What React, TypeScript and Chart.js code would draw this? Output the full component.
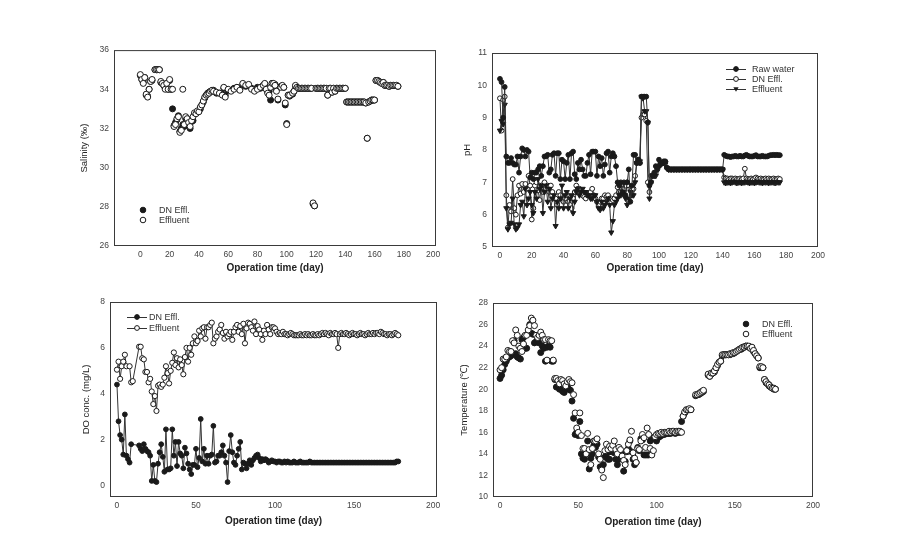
import React, { useEffect, useRef } from "react";
import { Chart, registerables } from "chart.js";

Chart.register(...registerables);
Chart.defaults.font.family = '"Liberation Sans", Arial, sans-serif';

// ---------------- DATA (array index = operation day; null = no sample) ----------------
const xTitle = "Operation time (day)";

// Salinity (‰)
const salTicksX = [0, 20, 40, 60, 80, 100, 120, 140, 160, 180, 200];
const salTicksY = [26, 28, 30, 32, 34, 36];
const salDN = [
  34.7, 34.5, 34.35, 34.6, 33.7, 33.65, 34.0, 34.4, 34.45, null,
  35.0, 35.0, 35.0, 35.0, 34.35, 34.3, 34.2, 34.05, 34.3, 34.0,
  34.45, 34.0, 33.0, 32.15, 32.3, 32.45, 32.65, 31.85, 32.0, 32.2,
  32.1, 32.5, 32.4, 32.2, 32.0, 32.35, 32.4, 32.75, 32.8, 32.85,
  32.9, 33.0, 33.2, 33.35, 33.55, 33.7, 33.8, 33.85, 33.9, 33.9,
  33.95, null, 33.8, null, 33.8, null, 33.75, 34.05, 33.7, null,
  33.95, null, 33.95, null, 34.05, null, 34.1, null, 34.0, null,
  34.25, null, 34.15, null, 34.2, null, 34.05, null, 33.95, null,
  34.1, null, 34.05, null, 34.2, 34.25, 34.05, 33.85, 33.9, 33.45,
  34.3, 34.2, 34.25, 34.0, 33.45, null, 34.15, 34.15, 34.1, 33.2,
  32.25, 33.7, 33.65, null, 33.75, 33.9, 34.15, 34.1, 34.05, 34.05,
  34.05, 34.05, 34.05, 34.05, 34.05, 34.05, 34.05, 34.05, 28.15, 28.05,
  34.05, 34.05, 34.05, 34.05, 34.05, 34.05, 34.05, 34.05, 33.7, 34.05,
  34.05, 33.85, 34.05, 33.9, 34.05, 34.05, 34.05, 34.05, 34.05, 34.05,
  34.05, 33.35, 33.35, 33.35, 33.35, 33.35, 33.35, 33.35, 33.35, 33.35,
  33.35, 33.35, 33.35, 33.35, 33.3, 31.5, 33.35, 33.4, 33.45, 33.45,
  33.45, 34.45, 34.45, 34.4, 34.35, 34.3, 34.35, 34.2, 34.2, 34.2,
  34.15, 34.2, 34.2, 34.2, 34.2, 34.2, 34.15,
];
const salEff = [
  34.75, 34.5, 34.3, 34.6, 33.75, 33.6, 34.0, 34.4, 34.5, null,
  35.0, 35.0, 35.0, 35.0, 34.4, 34.3, 34.2, 34.0, 34.3, 34.0,
  34.5, 34.0, 34.0, 32.1, 32.2, 32.5, 32.6, 31.8, 31.9, 34.0,
  32.2, 32.6, 32.5, 32.3, 32.1, 32.4, 32.6, 32.8, 32.75, 32.9,
  32.85, 33.1, 33.2, 33.4, 33.6, 33.7, 33.75, 33.8, 33.9, 33.95,
  33.9, null, 33.85, null, 33.8, null, 33.7, 34.1, 33.6, null,
  34.0, null, 33.9, null, 34.0, null, 34.1, null, 33.95, null,
  34.3, null, 34.2, null, 34.25, null, 34.0, null, 33.9, null,
  34.0, null, 34.1, null, 34.2, 34.3, 34.0, 33.8, 33.7, 34.1,
  34.3, 34.3, 34.2, 33.9, 33.5, null, 34.1, 34.2, 34.1, 33.3,
  32.2, 33.7, 33.7, null, 33.8, 33.9, 34.2, 34.1, 34.05, 34.05,
  34.05, 34.05, 34.05, 34.05, 34.05, 34.05, 34.05, 34.05, 28.2, 28.05,
  34.05, 34.05, 34.05, 34.05, 34.05, 34.05, 34.05, 34.05, 33.7, 34.05,
  34.05, 33.85, 34.05, 33.9, 34.05, 34.05, 34.05, 34.05, 34.05, 34.05,
  34.05, 33.35, 33.35, 33.35, 33.35, 33.35, 33.35, 33.35, 33.35, 33.35,
  33.35, 33.35, 33.35, 33.35, 33.3, 31.5, 33.35, 33.4, 33.45, 33.45,
  33.45, 34.45, 34.45, 34.4, 34.35, 34.3, 34.35, 34.2, 34.2, 34.2,
  34.15, 34.2, 34.2, 34.2, 34.2, 34.2, 34.15,
];

// pH
const phTicksX = [0, 20, 40, 60, 80, 100, 120, 140, 160, 180, 200];
const phTicksY = [5, 6, 7, 8, 9, 10, 11];
const phRaw = [
  10.2, 10.1, 9.0, 9.95, 7.8, 7.6, 7.6, 7.75, 7.6, 7.55,
  7.55, 7.8, 7.3, 7.8, 8.05, 8.0, 7.8, 8.0, 7.95, 7.15,
  7.3, 7.1, 7.3, 7.3, 7.4, 7.5, 7.2, 7.5, 7.8, 7.8,
  7.85, 7.3, 7.4, 7.85, 7.9, 7.2, 7.9, 7.9, 7.1, 7.7,
  7.65, 7.1, 7.6, 7.85, 7.1, 7.9, 7.95, 7.25, 7.1, 7.6,
  7.4, 7.7, 7.4, 7.2, 7.2, 7.6, 7.85, 7.25, 7.95, 7.95,
  7.95, 7.2, 7.8, 7.5, 7.75, 7.2, 7.55, 7.9, 7.95, 7.3,
  7.8, 7.9, 7.8, 7.5, 7.0, 6.9, 7.0, 6.7, 7.0, 6.6,
  7.0, 7.4, 6.4, 6.9, 7.85, 7.85, 7.6, 7.7, 7.6, 9.65,
  9.65, 9.65, 9.65, 8.85, 6.9, 7.0, 7.2, 7.3, 7.5, 7.45,
  7.7, 7.6, 7.6, 7.65, 7.65, 7.45, 7.4, 7.4, 7.4, 7.4,
  7.4, 7.4, 7.4, 7.4, 7.4, 7.4, 7.4, 7.4, 7.4, 7.4,
  7.4, 7.4, 7.4, 7.4, 7.4, 7.4, 7.4, 7.4, 7.4, 7.4,
  7.4, 7.4, 7.4, 7.4, 7.4, 7.4, 7.4, 7.4, 7.4, 7.4,
  7.4, 7.85, 7.82, 7.8, 7.8, 7.78, 7.8, 7.8, 7.82, 7.8,
  7.8, 7.82, 7.8, 7.8, 7.83, 7.85, 7.82, 7.8, 7.8, 7.8,
  7.82, 7.84, 7.8, 7.8, 7.8, 7.82, 7.8, 7.8, 7.8, 7.82,
  7.84, 7.84, 7.85, 7.84, 7.85, 7.84, 7.84,
];
const phDN = [
  9.6, 8.6, 9.55, 9.65, 6.6, 5.6, 6.3, 6.1, 7.1, 6.2,
  6.0, 6.6, 6.9, 6.65, 6.95, 6.7, 6.95, 6.8, 7.2, 6.9,
  5.85, 6.2, 6.9, 7.0, 6.75, 6.45, 6.9, 6.7, 7.0, 6.8,
  6.9, 6.7, 6.9, 6.7, 6.5, 6.5, 6.3, 6.7, 6.6, 6.5,
  6.4, 6.5, 6.6, 6.4, 6.3, 6.2, 6.5, 6.7, 6.9, 6.8,
  6.8, 6.7, 6.6, 6.55, 6.5, 6.6, 6.6, 6.7, 6.8, 6.6,
  6.5, 6.4, 6.3, 6.4, 6.5, 6.5, 6.6, 6.55, 6.6, 6.5,
  6.5, 6.45, 6.5, 6.6, 6.85, 6.7, 6.7, 6.8, 6.8, 6.9,
  7.0, 6.9, 6.8, 6.75, 6.8, 7.2, 7.6, 7.7, 7.6, 9.0,
  9.1, 9.1, 8.9, 7.0, 6.7, 7.2, 7.2, 7.25, 7.3, 7.4,
  7.5, 7.55, 7.6, 7.6, 7.6, 7.45, 7.4, 7.4, 7.4, 7.4,
  7.4, 7.4, 7.4, 7.4, 7.4, 7.4, 7.4, 7.4, 7.4, 7.4,
  7.4, 7.4, 7.4, 7.4, 7.4, 7.4, 7.4, 7.4, 7.4, 7.4,
  7.4, 7.4, 7.4, 7.4, 7.4, 7.4, 7.4, 7.4, 7.4, 7.4,
  7.4, 7.15, 7.12, 7.12, 7.1, 7.12, 7.12, 7.1, 7.12, 7.1,
  7.1, 7.12, 7.1, 7.12, 7.42, 7.12, 7.1, 7.1, 7.12, 7.1,
  7.12, 7.15, 7.12, 7.1, 7.12, 7.1, 7.1, 7.12, 7.1, 7.12,
  7.1, 7.1, 7.12, 7.1, 7.1, 7.12, 7.1,
];
const phEff = [
  8.6, 8.9, 8.8, 9.4, 6.2, 5.55, 5.7, 5.75, 6.5, 5.7,
  5.55, 5.6, 5.7, 6.3, 6.4, 5.95, 6.8, 6.3, 6.5, 6.7,
  6.3, 6.05, 6.7, 6.5, 7.1, 6.8, 6.9, 6.05, 6.7, 6.9,
  6.4, 6.8, 6.2, 6.5, 6.6, 5.65, 6.4, 6.2, 6.5, 6.9,
  6.2, 6.6, 6.7, 6.2, 6.5, 6.6, 6.05, 6.4, 6.7, 6.8,
  6.6, 6.7, 6.8, 6.7, 6.7, 6.6, 6.6, 6.5, 6.5, 6.6,
  6.6, 6.4, 6.2, 6.15, 6.4, 6.2, 6.3, 6.4, 6.5, 6.3,
  5.45, 5.8, 6.3, 6.4, 6.5, 6.6, 6.6, 6.65, 6.7, 6.5,
  6.3, 6.5, 6.7, 6.6, 6.6, 7.0, 7.6, 7.7, 7.65, 9.65,
  9.6, 9.2, 9.2, 8.85, 6.5, 7.0, 7.2, 7.2, 7.2, 7.4,
  7.5, 7.55, 7.6, 7.6, 7.6, 7.45, 7.4, 7.4, 7.4, 7.4,
  7.4, 7.4, 7.4, 7.4, 7.4, 7.4, 7.4, 7.4, 7.4, 7.4,
  7.4, 7.4, 7.4, 7.4, 7.4, 7.4, 7.4, 7.4, 7.4, 7.4,
  7.4, 7.4, 7.4, 7.4, 7.4, 7.4, 7.4, 7.4, 7.4, 7.4,
  7.4, 7.0, 6.98, 7.0, 7.0, 6.98, 7.0, 7.02, 7.0, 6.98,
  7.0, 7.0, 6.98, 7.0, 7.0, 7.02, 7.0, 6.98, 7.0, 7.0,
  6.98, 7.0, 7.02, 7.0, 7.0, 6.98, 7.0, 7.0, 7.0, 6.98,
  7.0, 7.0, 7.0, 6.98, 7.0, 7.0, 7.0,
];

// DO conc. (mg/L)
const doTicksX = [0, 50, 100, 150, 200];
const doTicksY = [0, 2, 4, 6, 8];
const doDN = [
  4.4, 2.8, 2.2, 2.0, 1.35, 3.1, 1.3, 1.15, 1.0, 1.8,
  null, null, null, null, 1.75, 1.6, 1.5, 1.8, 1.6, 1.5,
  1.45, 1.3, 0.2, 0.9, 0.2, 0.15, 0.95, 1.45, 1.8, 1.25,
  0.6, 2.45, 0.7, 0.7, 0.75, 2.45, 1.3, 1.9, 0.85, 1.9,
  1.4, 1.3, 0.75, 1.65, 1.4, 0.95, 0.7, 0.5, 0.9, 0.9,
  1.6, 0.8, 1.2, 2.9, 1.05, 1.6, 0.95, 1.3, 0.95, 1.3,
  1.35, 2.6, 1.0, 1.05, 1.3, 1.3, 1.45, 1.75, 1.3, 1.0,
  0.15, 1.5, 2.2, 1.45, 1.0, 0.9, 1.3, 1.6, 1.9, 0.7,
  1.0, 0.95, 0.75, 0.95, 1.1, 0.9, 1.1, 1.2, 1.3, 1.35,
  1.2, 1.05, 1.15, 1.1, 1.15, 1.1, 1.0, 1.05, 1.1, 1.05,
  1.05, 1.0, 1.05, 1.05, 1.0, 1.0, 1.05, 1.0, 1.05, 1.0,
  1.0, 1.0, 1.05, 1.0, 1.0, 1.0, 1.05, 1.0, 1.0, 1.0,
  1.0, 1.0, 1.05, 1.0, 1.0, 1.0, 1.0, 1.0, 1.0, 1.0,
  1.0, 1.0, 1.0, 1.0, 1.0, 1.0, 1.0, 1.0, 1.0, 1.0,
  1.0, 1.0, 1.0, 1.0, 1.0, 1.0, 1.0, 1.0, 1.0, 1.0,
  1.0, 1.0, 1.0, 1.0, 1.0, 1.0, 1.0, 1.0, 1.0, 1.0,
  1.0, 1.0, 1.0, 1.0, 1.0, 1.0, 1.0, 1.0, 1.0, 1.0,
  1.0, 1.0, 1.0, 1.0, 1.0, 1.0, 1.0, 1.05, 1.05,
];
const doEff = [
  5.05, 5.4, 4.65, 5.2, 5.4, 5.7, 5.2, null, 5.2, 4.5,
  4.55, null, null, null, 6.05, 6.05, 5.55, 5.5, 4.95, 4.95,
  4.5, 4.65, 4.1, 3.55, 3.9, 3.25, 4.35, 4.4, 4.3, 4.4,
  4.7, 5.2, 4.9, 4.45, 5.0, 5.35, 5.8, 5.25, 5.55, 5.15,
  5.5, 5.25, 4.85, 5.6, 6.0, 5.4, 6.0, 5.7, 6.2, 6.5,
  6.2, 6.3, 6.75, 6.5, 6.85, 6.9, 6.4, 6.9, 6.9, 7.0,
  7.1, 6.2, 6.4, 6.5, 6.7, 6.8, 7.0, 6.65, 6.4, 6.7,
  6.5, 6.6, 6.7, 6.35, 6.7, 6.9, 7.0, 6.7, 6.95, 6.6,
  7.05, 6.2, 6.85, 7.1, 7.05, 6.9, 6.75, 7.15, 6.6, 6.95,
  6.8, 6.6, 6.35, 6.75, 6.6, 7.0, 6.8, 6.6, 6.9, 6.9,
  6.85, 6.7, 6.6, 6.65, 6.6, 6.7, 6.6, 6.6, 6.55, 6.6,
  6.65, 6.6, 6.55, 6.55, 6.55, 6.55, 6.6, 6.55, 6.55, 6.6,
  6.55, 6.6, 6.55, 6.55, 6.6, 6.55, 6.55, 6.6, 6.55, 6.6,
  6.65, 6.6, 6.65, 6.6, 6.55, 6.65, 6.6, 6.6, 6.65, 6.6,
  6.0, 6.6, 6.65, 6.6, 6.6, 6.65, 6.6, 6.55, 6.6, 6.65,
  6.6, 6.6, 6.55, 6.6, 6.65, 6.6, 6.6, 6.55, 6.6, 6.65,
  6.6, 6.6, 6.65, 6.6, 6.65, 6.65, 6.6, 6.7, 6.65, 6.6,
  6.6, 6.55, 6.6, 6.6, 6.55, 6.6, 6.65, 6.6, 6.55,
];

// Temperature (℃)
const tTicksX = [0, 50, 100, 150, 200];
const tTicksY = [10, 12, 14, 16, 18, 20, 22, 24, 26, 28];
const tDN = [
  21.0, 21.3, 21.8, 22.3, 22.6, 22.9, 23.0, 23.1, 23.3, 24.5,
  23.3, 23.0, 22.9, 22.8, 24.6, 24.8, 23.8, 23.8, 25.2, 26.0,
  25.2, 25.1, 24.3, 24.4, 24.6, 24.3, 23.4, 24.0, 23.8, 22.6,
  23.9, 24.0, 23.9, 22.6, 22.6, 20.9, 20.2, 20.2, 20.0, 20.1,
  19.8, 19.7, 20.0, 20.2, 20.0, 19.9, 18.9, 17.3, 15.8, 16.0,
  15.7, 17.0, 14.0, 13.6, 13.5, 14.3, 15.2, 12.6, 13.6, 14.0,
  14.8, 14.6, 14.9, 13.7, 12.8, 12.6, 13.0, 13.7, 14.0, 13.5,
  13.5, 14.2, 14.3, 14.1, 13.5, 13.0, 13.5, 13.9, 14.1, 12.4,
  13.3, 14.2, 14.5, 15.2, 14.2, 13.5, 13.0, 13.2, 14.6, 14.3,
  15.4, 15.3, 13.9, 13.9, 13.9, 13.9, 15.2, 15.4, 15.5, 15.6,
  15.2, 15.5, 15.6, 15.7, 15.8, 15.8, 15.9, 15.9, 15.9, 15.9,
  16.0, 16.0, 15.9, 16.0, 16.0, 16.0, 17.0, 17.5, 17.8, 18.0,
  18.1, 18.1, 18.1, null, null, 19.4, 19.5, 19.5, 19.6, 19.7,
  19.8, null, null, 21.3, 21.2, 21.4, 21.5, 21.6, 21.9, 22.2,
  22.5, 22.6, 23.1, 23.2, 23.2, 23.2, 23.2, 23.2, 23.3, 23.3,
  23.4, 23.5, 23.6, 23.7, 23.7, 23.8, 23.9, 24.0, 24.0, 23.9,
  23.8, 23.8, 23.5, 23.3, 23.1, 22.9, 22.0, 22.0, 22.0, 20.9,
  20.6, 20.5, 20.3, 20.2, 20.1, 20.0, 20.0,
];
const tEff = [
  21.8, 22.0, 22.8, 22.8, 23.0, 23.6, 23.5, 23.5, 24.5, 24.3,
  25.5, 25.0, 24.0, 23.8, 23.5, 24.2, 25.0, 25.0, 25.5, 25.9,
  26.6, 26.4, 25.9, 25.0, 24.8, 25.0, 25.3, 25.0, 24.6, 24.6,
  22.7, 24.6, 24.5, 24.5, 22.7, 21.0, 21.0, 20.8, 20.5, 20.9,
  20.8, 20.5, 20.3, 20.7, 20.9, 20.7, 20.6, 19.5, 17.8, 16.4,
  16.0, 17.8, 15.7, 14.5, 14.5, 14.0, 15.9, 14.4, 13.0, 14.5,
  15.2, 15.2, 15.4, 14.0, 13.5, 12.5, 11.8, 14.3, 14.9, 14.4,
  14.7, 14.5, 14.8, 15.2, 14.4, 14.0, 14.6, 14.4, 13.8, 13.4,
  13.0, 14.3, 14.9, 15.3, 16.1, 14.1, 13.6, 13.2, 14.5, 14.4,
  15.2, 15.8, 15.5, 14.6, 16.4, 15.8, 14.5, 13.9, 14.3, 15.6,
  15.8, 15.9, 15.9, 16.0, 15.9, 16.0, 16.0, 16.0, 16.1, 16.0,
  16.1, 16.1, 16.0, 16.1, 16.1, 16.1, 16.0, 17.5, 17.9, 18.1,
  18.1, 18.2, 18.1, null, null, 19.5, 19.5, 19.6, 19.7, 19.8,
  19.9, null, null, 21.4, 21.2, 21.5, 21.5, 21.7, 22.0, 22.3,
  22.5, 22.6, 23.2, 23.2, 23.2, 23.2, 23.2, 23.3, 23.3, 23.4,
  23.4, 23.5, 23.6, 23.7, 23.8, 23.9, 23.9, 24.0, 24.0, 24.0,
  23.8, 23.9, 23.6, 23.3, 23.1, 22.9, 22.1, 22.1, 22.0, 20.9,
  20.7, 20.5, 20.4, 20.2, 20.1, 20.1, 20.0,
];

// ---------------- helpers ----------------
const toPts = (arr: (number | null)[]) =>
  arr.map((v, i) => (v == null ? null : { x: i, y: v })).filter(Boolean) as { x: number; y: number }[];

const INK = "#1a1a1a";

type LegItem = { mx: number; my: number; tx: number; label: string; kind: "filled" | "open" | "tri"; line: boolean };

function drawMarker(ctx: CanvasRenderingContext2D, kind: string, x: number, y: number, r: number) {
  ctx.beginPath();
  if (kind === "tri") {
    ctx.moveTo(x - r * 1.1, y - r * 0.7);
    ctx.lineTo(x + r * 1.1, y - r * 0.7);
    ctx.lineTo(x, y + r * 1.1);
    ctx.closePath();
    ctx.fillStyle = INK;
    ctx.fill();
    return;
  }
  ctx.arc(x, y, r, 0, Math.PI * 2);
  ctx.fillStyle = kind === "filled" ? INK : "#fff";
  ctx.fill();
  ctx.lineWidth = 1;
  ctx.strokeStyle = INK;
  ctx.stroke();
}

const boxPlugin = {
  id: "box",
  afterDraw(chart: any) {
    const { ctx, chartArea } = chart;
    ctx.save();
    ctx.strokeStyle = "#3a3a3a";
    ctx.lineWidth = 1;
    ctx.strokeRect(chartArea.left + 0.5, chartArea.top + 0.5, chartArea.right - chartArea.left - 1, chartArea.bottom - chartArea.top - 1);
    ctx.restore();
  },
};

const legendPlugin = (items: LegItem[], r: number) => ({
  id: "customLegend",
  afterDraw(chart: any) {
    const ctx = chart.ctx as CanvasRenderingContext2D;
    ctx.save();
    for (const it of items) {
      if (it.line) {
        ctx.strokeStyle = "#333";
        ctx.lineWidth = 1;
        ctx.beginPath();
        ctx.moveTo(it.mx - 10, it.my + 0.5);
        ctx.lineTo(it.mx + 10, it.my + 0.5);
        ctx.stroke();
      }
      drawMarker(ctx, it.kind, it.mx, it.my, r);
      ctx.fillStyle = "#333";
      ctx.font = '9px "Liberation Sans", Arial, sans-serif';
      ctx.textBaseline = "middle";
      ctx.textAlign = "left";
      ctx.fillText(it.label, it.tx, it.my + 0.5);
    }
    ctx.restore();
  },
});

type PanelCfg = {
  left: number; top: number; width: number; height: number;
  yWidth: number; xHeight: number; padTop: number; padRight: number;
  xMin: number; xMax: number; xTicks: number[];
  yMin: number; yMax: number; yTicks: number[];
  yTitle: string; yTitlePad: number; xTitlePad: number;
  datasets: any[]; legend: LegItem[]; legendR: number;
};

function Panel({ cfg }: { cfg: PanelCfg }) {
  const ref = useRef<HTMLCanvasElement>(null);
  useEffect(() => {
    if (!ref.current) return;
    const tickFont = { size: 8.5 };
    const chart = new Chart(ref.current, {
      type: "scatter",
      data: { datasets: cfg.datasets },
      options: {
        animation: false,
        responsive: false,
        devicePixelRatio: 1,
        layout: { padding: { top: cfg.padTop, right: cfg.padRight, left: 0, bottom: 0 } },
        plugins: { legend: { display: false }, tooltip: { enabled: false } },
        scales: {
          x: {
            type: "linear",
            min: cfg.xMin,
            max: cfg.xMax,
            afterBuildTicks: (s: any) => { s.ticks = cfg.xTicks.map((v) => ({ value: v })); },
            afterFit: (s: any) => { s.height = cfg.xHeight; },
            grid: { display: false, drawTicks: false },
            border: { display: false },
            ticks: { font: tickFont, color: "#444", padding: 4, autoSkip: false, maxRotation: 0 },
            title: { display: true, text: xTitle, color: "#222", font: { size: 10, weight: "bold" }, padding: { top: 0, bottom: cfg.xTitlePad } },
          },
          y: {
            type: "linear",
            min: cfg.yMin,
            max: cfg.yMax,
            afterBuildTicks: (s: any) => { s.ticks = cfg.yTicks.map((v) => ({ value: v })); },
            afterFit: (s: any) => { s.width = cfg.yWidth; },
            grid: { display: false, drawTicks: false },
            border: { display: false },
            ticks: { font: tickFont, color: "#444", padding: 5, autoSkip: false },
            title: { display: true, text: cfg.yTitle, color: "#222", font: { size: 9.5 }, padding: { top: cfg.yTitlePad, bottom: 0 } },
          },
        },
      } as any,
      plugins: [boxPlugin, legendPlugin(cfg.legend, cfg.legendR)],
    });
    return () => chart.destroy();
  }, []);
  return (
    <canvas
      ref={ref}
      width={cfg.width}
      height={cfg.height}
      style={{ position: "absolute", left: cfg.left, top: cfg.top, width: cfg.width, height: cfg.height }}
    />
  );
}

const filled = (label: string, data: number[] | any, r: number, order: number, extra: any = {}) => ({
  label, data, order, pointRadius: r, pointBackgroundColor: INK, pointBorderColor: INK, pointBorderWidth: 1,
  showLine: false, ...extra,
});
const open = (label: string, data: any, r: number, order: number, extra: any = {}) => ({
  label, data, order, pointRadius: r, pointBackgroundColor: "#fff", pointBorderColor: INK, pointBorderWidth: 1,
  showLine: false, ...extra,
});
const lineOpts = { showLine: true, borderColor: "#333", borderWidth: 1 };

const panels: PanelCfg[] = [
  {
    left: 60, top: 40, width: 390, height: 240, yWidth: 54, xHeight: 34, padTop: 10, padRight: 14,
    xMin: -18, xMax: 202, xTicks: salTicksX, yMin: 26, yMax: 36, yTicks: salTicksY,
    yTitle: "Salinity (‰)", yTitlePad: 19, xTitlePad: 6,
    datasets: [
      open("Effluent", toPts(salEff), 3, 0),
      filled("DN Effl.", toPts(salDN), 3, 1),
    ],
    legend: [
      { mx: 83, my: 170, tx: 99, label: "DN Effl.", kind: "filled", line: false },
      { mx: 83, my: 180, tx: 99, label: "Effluent", kind: "open", line: false },
    ],
    legendR: 2.8,
  },
  {
    left: 440, top: 40, width: 400, height: 240, yWidth: 52, xHeight: 33, padTop: 13, padRight: 22,
    xMin: -5, xMax: 200, xTicks: phTicksX, yMin: 5, yMax: 11, yTicks: phTicksY,
    yTitle: "pH", yTitlePad: 22, xTitlePad: 6,
    datasets: [
      filled("Raw water", toPts(phRaw), 2.4, 0, lineOpts),
      filled("Effluent", toPts(phEff), 3, 1, { ...lineOpts, pointStyle: "triangle", pointRotation: 180 }),
      open("DN Effl.", toPts(phDN), 2.4, 2, lineOpts),
    ],
    legend: [
      { mx: 296, my: 29, tx: 312, label: "Raw water", kind: "filled", line: true },
      { mx: 296, my: 39, tx: 312, label: "DN Effl.", kind: "open", line: true },
      { mx: 296, my: 49, tx: 312, label: "Effluent", kind: "tri", line: true },
    ],
    legendR: 2.4,
  },
  {
    left: 60, top: 290, width: 390, height: 250, yWidth: 50, xHeight: 43, padTop: 12, padRight: 13,
    xMin: -4.4, xMax: 202.5, xTicks: doTicksX, yMin: -0.5, yMax: 8, yTicks: doTicksY,
    yTitle: "DO conc. (mg/L)", yTitlePad: 21, xTitlePad: 13,
    datasets: [
      filled("DN Effl.", toPts(doDN), 2.4, 0, lineOpts),
      open("Effluent", toPts(doEff), 2.6, 1, lineOpts),
    ],
    legend: [
      { mx: 77, my: 27, tx: 89, label: "DN Effl.", kind: "filled", line: true },
      { mx: 77, my: 38, tx: 89, label: "Effluent", kind: "open", line: true },
    ],
    legendR: 2.4,
  },
  {
    left: 440, top: 290, width: 400, height: 250, yWidth: 53, xHeight: 43, padTop: 13, padRight: 27,
    xMin: -4.5, xMax: 200, xTicks: tTicksX, yMin: 10, yMax: 28, yTicks: tTicksY,
    yTitle: "Temperature (℃)", yTitlePad: 19, xTitlePad: 12,
    datasets: [
      open("Effluent", toPts(tEff), 3, 0),
      filled("DN Effl.", toPts(tDN), 3, 1),
    ],
    legend: [
      { mx: 306, my: 34, tx: 322, label: "DN Effl.", kind: "filled", line: false },
      { mx: 306, my: 44, tx: 322, label: "Effluent", kind: "open", line: false },
    ],
    legendR: 2.8,
  },
];

export default function App() {
  return (
    <div style={{ position: "absolute", left: 0, top: 0, width: 898, height: 541, background: "#fff", overflow: "hidden" }}>
      {panels.map((p, i) => (
        <Panel key={i} cfg={p} />
      ))}
    </div>
  );
}
